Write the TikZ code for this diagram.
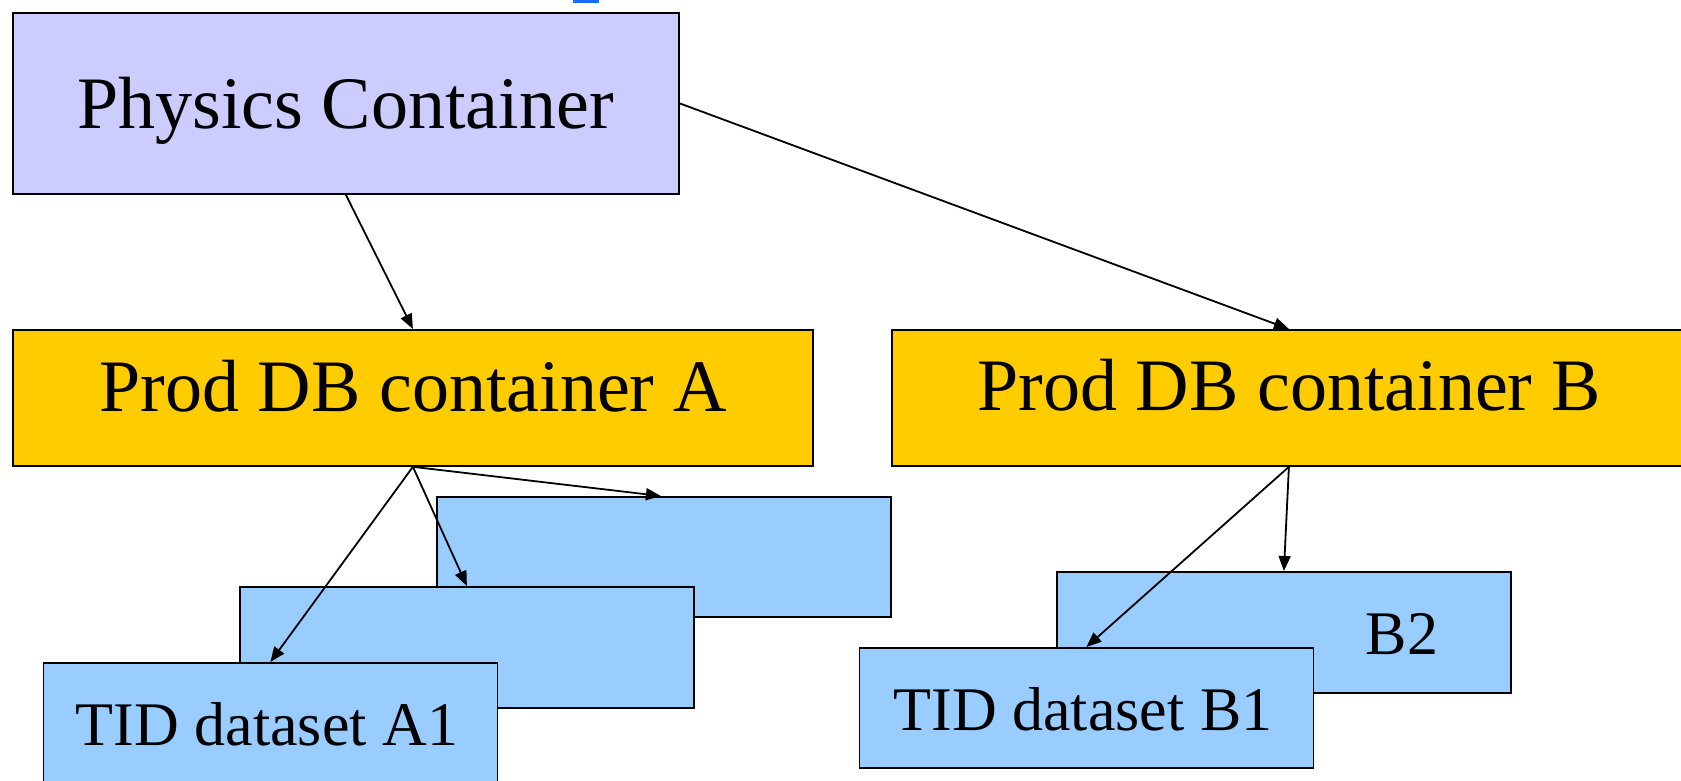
\documentclass[tikz,border=0pt]{standalone}
\usepackage{fontspec}
\setmainfont{Liberation Serif}
\usetikzlibrary{arrows.meta}
\definecolor{physfill}{HTML}{CCCCFF}
\definecolor{prodfill}{HTML}{FFCC00}
\definecolor{tidfill}{HTML}{99CCFF}
\definecolor{linkblue}{HTML}{1A6CFF}
\tikzset{
  box/.style={draw=black, line width=1.8pt, rectangle, inner sep=0pt, anchor=north west},
  physbox/.style={box, fill=physfill},
  prodbox/.style={box, fill=prodfill},
  tidbox/.style={box, fill=tidfill},
  bigtext/.style={inner sep=0pt, anchor=base, font=\fontsize{74}{80}\selectfont},
  smalltext/.style={inner sep=0pt, anchor=base, font=\fontsize{62}{70}\selectfont},
  conn/.style={draw=black, line width=1.8pt, -{Triangle[length=15pt,width=12pt]}}
}
\begin{document}
\begin{tikzpicture}[x=1pt,y=-1pt]
\useasboundingbox (0,0) rectangle (1681,780);
\clip (0,0) rectangle (1681,780);
\fill[linkblue] (573,0) rectangle (599,2.5);
% boxes
\node[physbox, minimum width=666pt, minimum height=181pt] (P) at (12,12) {};
\node[prodbox, minimum width=800pt, minimum height=136pt] (A) at (12,329) {};
\node[prodbox, minimum width=794pt, minimum height=136pt] (B) at (891,329) {};
\node[tidbox, minimum width=454pt, minimum height=120pt] (A3) at (436,496) {};
\node[tidbox, minimum width=454pt, minimum height=121pt] (A2) at (239,586) {};
\node[tidbox, minimum width=454pt, minimum height=130pt] (A1) at (42.5,662) {};
\node[tidbox, minimum width=454pt, minimum height=121pt] (B2) at (1056,571) {};
\node[tidbox, minimum width=454pt, minimum height=120pt] (B1) at (858.5,647) {};
% texts
\node[bigtext] (Pt) at (345.5,128) {Physics Container};
\node[bigtext] (At) at (413,411) {Prod DB container A};
\node[bigtext] (Bt) at (1289,410) {Prod DB container B};
\node[smalltext] (A1t) at (267,745) {TID dataset A1};
\node[smalltext] (B1t) at (1083,730) {TID dataset B1};
\node[smalltext] (B2t) at (1402,654) {B2};
% connectors
\draw[conn] (P.south) -- (A.north);
\draw[conn] (P.east) -- (B.north);
\draw[conn] (A.south) -- ([xshift=-3pt]A3.north);
\draw[conn] (A.south) -- (A2.north);
\draw[conn] (A.south) -- (A1.north);
\draw[conn] (B.south) -- (B2.north);
\draw[conn] (B.south) -- (B1.north);
\end{tikzpicture}
\end{document}
